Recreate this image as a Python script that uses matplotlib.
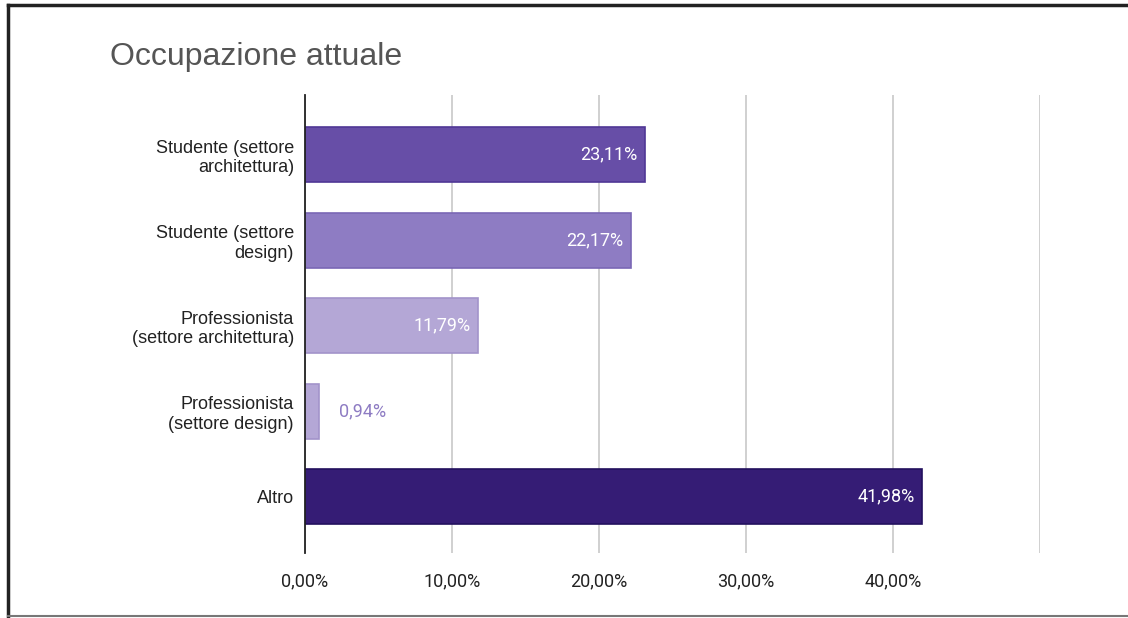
import matplotlib.pyplot as plt
from matplotlib.lines import Line2D

# Occupazione attuale - survey answers (percent)
categories = [
    "Studente (settore\narchitettura)",
    "Studente (settore\ndesign)",
    "Professionista\n(settore architettura)",
    "Professionista\n(settore design)",
    "Altro",
]
values = [23.11, 22.17, 11.79, 0.94, 41.98]
bar_colors = ["#674ea7", "#8e7cc3", "#b4a7d6", "#b4a7d6", "#351c75"]
edge_colors = ["#4f3795", "#7a67b5", "#a293ca", "#a293ca", "#22105e"]
x_ticks = [0, 10, 20, 30, 40, 50]
x_labels = ["0,00%", "10,00%", "20,00%", "30,00%", "40,00%", ""]

plt.rcParams['font.family'] = ['Roboto', 'DejaVu Sans']

fig = plt.figure(figsize=(11.28, 6.18), dpi=100)
ax = fig.add_axes([305 / 1128, 1 - 553 / 618, (1040 - 305) / 1128, (553 - 95) / 618])

ypos = list(range(len(categories)))
ax.barh(ypos, values, height=0.645, color=bar_colors, edgecolor=edge_colors,
        linewidth=1.2, zorder=3)
ax.set_ylim(len(categories) - 0.34, -0.7)
ax.set_xlim(0, 50)

# value labels: inside the bar, or beside it when the bar is too short
for y, v, c in zip(ypos, values, bar_colors):
    txt = f"{v:.2f}%".replace(".", ",")
    if v > 5:
        ax.text(v - 0.5, y, txt, ha="right", va="center", color="white",
                fontsize=13, zorder=4)
    else:
        ax.text(v + 1.4, y, txt, ha="left", va="center", color="#8e7cc3",
                fontsize=13, zorder=4)

ax.set_yticks(ypos)
ax.set_yticklabels(categories, fontsize=13, color="#222222",
                   family=['Liberation Sans', 'DejaVu Sans'])
ax.set_xticks(x_ticks)
ax.set_xticklabels(x_labels, fontsize=13, color="#222222")
ax.tick_params(axis="both", length=0, pad=8)
ax.tick_params(axis="x", pad=14)

ax.grid(axis="x", color="#c8c8c8", linewidth=1.2, zorder=0)
for s in ["top", "right", "bottom"]:
    ax.spines[s].set_visible(False)
ax.spines["left"].set_color("#222222")
ax.spines["left"].set_linewidth(1.3)
ax.spines["left"].set_zorder(5)

fig.text(110 / 1128, 1 - 57 / 618, "Occupazione attuale", fontsize=23,
         color="#555555", va="center", ha="left",
         family=['Liberation Sans', 'DejaVu Sans'])

# outer frame of the chart
fig.add_artist(Line2D([8 / 1128, 8 / 1128], [0, 1 - 5 / 618], color="#222222",
                      linewidth=2.5, transform=fig.transFigure))
fig.add_artist(Line2D([8 / 1128, 1], [1 - 5 / 618, 1 - 5 / 618], color="#222222",
                      linewidth=2.5, transform=fig.transFigure))
fig.add_artist(Line2D([8 / 1128, 1], [1 - 616 / 618, 1 - 616 / 618], color="#777777",
                      linewidth=1.5, transform=fig.transFigure))

fig.savefig("out.png", dpi=100)
